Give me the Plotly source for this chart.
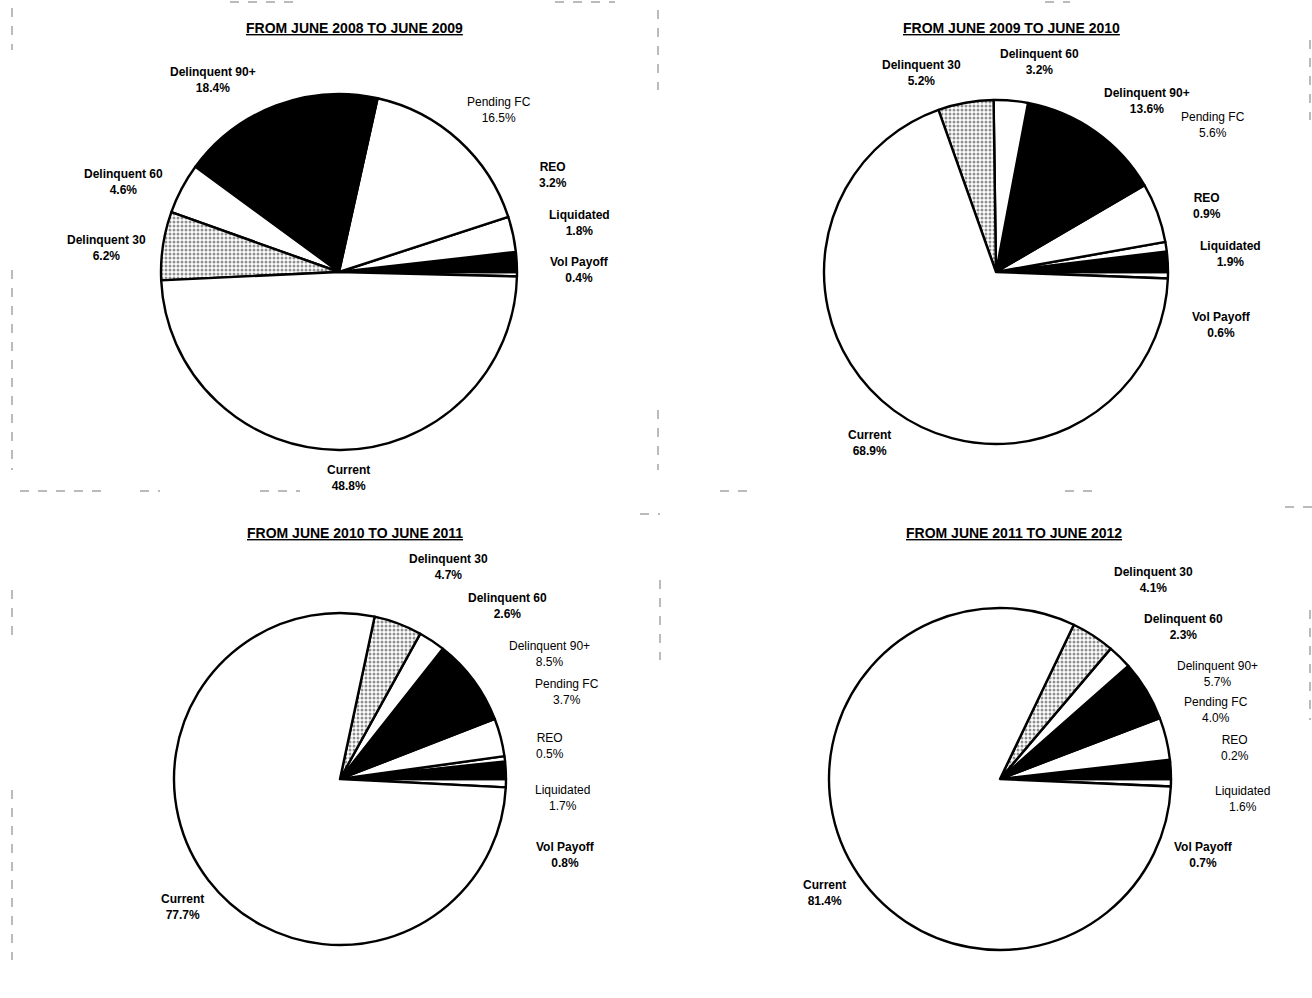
import plotly.graph_objects as go

W, H = 1312, 998

categories = ["Vol Payoff", "Liquidated", "REO", "Pending FC",
              "Delinquent 90+", "Delinquent 60", "Delinquent 30", "Current"]

titles = ["FROM JUNE 2008 TO JUNE 2009", "FROM JUNE 2009 TO JUNE 2010",
          "FROM JUNE 2010 TO JUNE 2011", "FROM JUNE 2011 TO JUNE 2012"]

share_2008_2009 = [0.4, 1.8, 3.2, 16.5, 18.4, 4.6, 6.2, 48.8]
share_2009_2010 = [0.6, 1.9, 0.9, 5.6, 13.6, 3.2, 5.2, 68.9]
share_2010_2011 = [0.8, 1.7, 0.5, 3.7, 8.5, 2.6, 4.7, 77.7]
share_2011_2012 = [0.7, 1.6, 0.2, 4.0, 5.7, 2.3, 4.1, 81.4]
periods = [share_2008_2009, share_2009_2010, share_2010_2011, share_2011_2012]

# slice fills (black / white / stippled for Delinquent 30)
fills = ["white", "black", "white", "white", "black", "white", "white", "white"]
patterns = ["", "", "", "", "", "", ".", ""]

FONT = "Arial, Liberation Sans, sans-serif"


def px(x):
    return x / W


def py(y):
    return 1 - y / H


# pie centre and radius in pixels, title centre
pies = [
    dict(cx=339, cy=272, r=178, tx=354, ty=28),
    dict(cx=996, cy=272, r=172, tx=1011, ty=28),
    dict(cx=340, cy=779, r=166, tx=355, ty=533),
    dict(cx=1000, cy=779, r=171, tx=1014, ty=533),
]

# label anchor points (pixels) for each category, per chart
label_pos = [
    {"Vol Payoff": (579, 270), "Liquidated": (579, 223), "REO": (553, 175),
     "Pending FC": (499, 110), "Delinquent 90+": (213, 80),
     "Delinquent 60": (123, 182), "Delinquent 30": (106, 248),
     "Current": (348, 478)},
    {"Vol Payoff": (1221, 325), "Liquidated": (1230, 254), "REO": (1207, 206),
     "Pending FC": (1213, 125), "Delinquent 90+": (1147, 101),
     "Delinquent 60": (1039, 62), "Delinquent 30": (921, 73),
     "Current": (869, 443)},
    {"Vol Payoff": (565, 855), "Liquidated": (562, 798), "REO": (550, 746),
     "Pending FC": (567, 692), "Delinquent 90+": (549, 654),
     "Delinquent 60": (507, 606), "Delinquent 30": (448, 567),
     "Current": (182, 907)},
    {"Vol Payoff": (1203, 855), "Liquidated": (1242, 799), "REO": (1235, 748),
     "Pending FC": (1216, 710), "Delinquent 90+": (1217, 674),
     "Delinquent 60": (1183, 627), "Delinquent 30": (1153, 580),
     "Current": (824, 893)},
]

# labels printed in regular weight
regular = [
    {"Pending FC"},
    {"Pending FC"},
    {"Delinquent 90+", "Pending FC", "REO", "Liquidated"},
    {"Delinquent 90+", "Pending FC", "REO", "Liquidated"},
]

fig = go.Figure()
annotations = []

for i, (vals, geo) in enumerate(zip(periods, pies)):
    r = geo["r"]
    fig.add_trace(go.Pie(
        labels=categories,
        values=vals,
        sort=False,
        direction="counterclockwise",
        rotation=90,
        textinfo="none",
        hoverinfo="label+percent",
        showlegend=False,
        domain=dict(x=[px(geo["cx"] - r), px(geo["cx"] + r)],
                    y=[py(geo["cy"] + r), py(geo["cy"] - r)]),
        marker=dict(
            colors=fills,
            line=dict(color="black", width=2.4),
            pattern=dict(shape=patterns, fgcolor="#222222", bgcolor="white",
                         size=4, solidity=0.45, fillmode="overlay"),
        ),
    ))

    annotations.append(dict(
        x=px(geo["tx"]), y=py(geo["ty"]), xref="paper", yref="paper",
        text=f"<b><u>{titles[i]}</u></b>", showarrow=False,
        font=dict(family=FONT, size=14, color="black"),
        xanchor="center", yanchor="middle",
    ))

    for cat, v in zip(categories, vals):
        lx, ly = label_pos[i][cat]
        txt = f"{cat}<br>{v:.1f}%"
        if cat not in regular[i]:
            txt = f"<b>{cat}</b><br><b>{v:.1f}%</b>"
        annotations.append(dict(
            x=px(lx), y=py(ly), xref="paper", yref="paper",
            text=txt, showarrow=False, align="center",
            font=dict(family=FONT, size=12, color="black"),
            xanchor="center", yanchor="middle",
        ))

# faint page-edge rules of the printed sheet
shapes = []
edge = dict(color="#777777", width=1, dash="dash")
for x0, x1, y in [(20, 110, 491), (140, 160, 491), (260, 300, 491),
                  (720, 750, 491), (1065, 1095, 491), (1285, 1312, 507),
                  (640, 660, 514), (230, 300, 2), (555, 615, 2), (1045, 1070, 2)]:
    shapes.append(dict(type="line", xref="paper", yref="paper",
                       x0=px(x0), x1=px(x1), y0=py(y), y1=py(y), line=edge))
for x, y0, y1 in [(12, 8, 50), (12, 270, 470), (658, 10, 90), (658, 410, 470),
                  (660, 580, 660), (12, 590, 640), (12, 790, 960),
                  (1310, 40, 120), (1310, 610, 720)]:
    shapes.append(dict(type="line", xref="paper", yref="paper",
                       x0=px(x), x1=px(x), y0=py(y0), y1=py(y1), line=edge))

fig.update_layout(
    width=W, height=H,
    margin=dict(l=0, r=0, t=0, b=0),
    paper_bgcolor="white", plot_bgcolor="white",
    annotations=annotations,
    shapes=shapes,
    font=dict(family=FONT),
)

fig.write_html("out.html")
